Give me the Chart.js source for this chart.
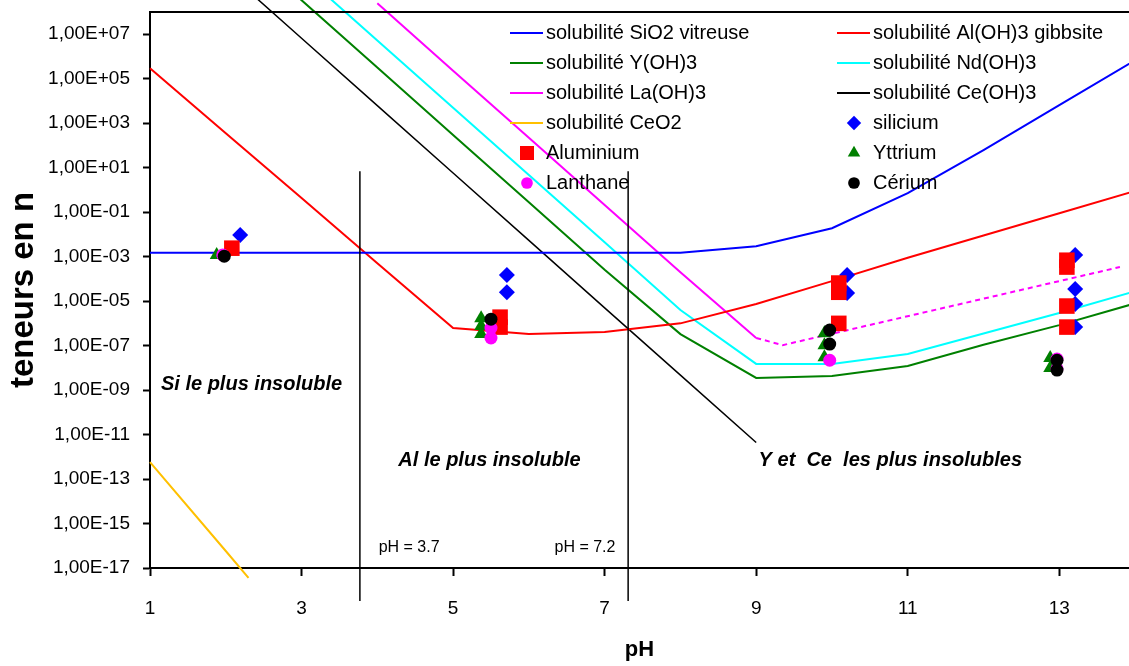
<!DOCTYPE html>
<html>
<head>
<meta charset="utf-8">
<script src="https://cdn.jsdelivr.net/npm/chart.js@4/dist/chart.umd.min.js"></script>
<style>
  html, body { margin: 0; padding: 0; background: #fff; overflow: hidden; }
</style>
</head>
<body>
<canvas id="graphique" width="1129" height="666"></canvas>
<script>
// courbes de solubilité (pH, teneur)
const phSiO2 = [1, 2, 3, 4, 5, 6, 7, 8, 9, 10, 11, 12, 13, 14];
const solSiO2 = [1.5e-3, 1.5e-3, 1.5e-3, 1.5e-3, 1.5e-3, 1.5e-3, 1.5e-3, 1.5e-3, 2.95e-3, 1.9e-2, 0.71, 62, 6.5e3, 6.8e5];

const phAl = [1, 2, 3, 4, 5, 6, 7, 8, 9, 10, 11, 12, 13, 14];
const solAl = [2.95e5, 355, 0.43, 5.1e-4, 6.2e-7, 3.3e-7, 4.1e-7, 1.0e-6, 7.4e-6, 7.9e-5, 8.9e-4, 8.9e-3, 8.9e-2, 0.89];

const phY = [2, 3, 4, 5, 6, 7, 8, 9, 10, 11, 12, 13, 14];
const solY = [3.6e11, 3.4e8, 3.2e5, 295, 0.28, 2.6e-4, 3.3e-7, 3.5e-9, 4.3e-9, 1.2e-8, 1.1e-7, 8.3e-7, 7.9e-6];

const phNd = [3, 4, 5, 6, 7, 8, 9, 10, 11, 12, 13, 14];
const solNd = [5.6e9, 5.2e6, 5.0e3, 4.7, 4.4e-3, 4.0e-6, 1.5e-8, 1.5e-8, 4.2e-8, 3.5e-7, 2.9e-6, 2.8e-5];

const phLa = [4, 5, 6, 7, 8, 9, 9.35, 11.5, 13.8];
const solLa = [2.5e8, 2.3e5, 224, 0.21, 2.0e-4, 2.2e-7, 1.05e-7, 5.2e-6, 3.4e-4];

const phCe = [2, 3, 4, 5, 6, 7, 8, 9];
const solCe = [7.1e9, 6.6e6, 6.2e3, 5.8, 5.4e-3, 5.0e-6, 4.7e-9, 4.4e-12];

const phCeO2 = [1, 2, 2.3];
const solCeO2 = [5.8e-13, 5.8e-17, 3.6e-18];

// mesures
const phSilicium = [2.19, 5.71, 5.71, 10.2, 10.2, 13.21, 13.21, 13.21, 13.21];
const teneurSilicium = [9.3e-3, 1.5e-4, 2.5e-5, 1.5e-4, 2.3e-5, 1.2e-3, 3.5e-5, 7.4e-6, 6.8e-7];

const phAluminium = [2.08, 5.62, 5.62, 10.09, 10.09, 10.09, 13.1, 13.1, 13.1, 13.1];
const teneurAluminium = [2.4e-3, 1.9e-6, 6.8e-7, 6.5e-5, 2.5e-5, 1.0e-6, 6.9e-4, 3.4e-4, 6.0e-6, 6.8e-7];

const phYttrium = [1.88, 5.37, 5.37, 5.37, 9.9, 9.9, 9.9, 12.88, 12.88];
const teneurYttrium = [1.2e-3, 1.7e-6, 7.6e-7, 3.3e-7, 3.6e-7, 1.05e-7, 3.0e-8, 2.75e-8, 9.8e-9];

const phLanthane = [1.96, 5.5, 5.5, 9.97, 12.97, 12.97];
const teneurLanthane = [1.2e-3, 6.2e-7, 2.2e-7, 2.2e-8, 2.5e-8, 9.0e-9];

const phCerium = [1.98, 5.5, 9.97, 9.97, 12.97, 12.97];
const teneurCerium = [1.05e-3, 1.55e-6, 5.0e-7, 1.17e-7, 2.2e-8, 7.9e-9];

// axes
const ticksPH = [1, 3, 5, 7, 9, 11, 13];
const ticksTeneur = [1e-17, 1e-15, 1e-13, 1e-11, 1e-9, 1e-7, 1e-5, 1e-3, 1e-1, 1e1, 1e3, 1e5, 1e7];
const etiquettesTeneur = ['1,00E-17', '1,00E-15', '1,00E-13', '1,00E-11', '1,00E-09', '1,00E-07', '1,00E-05',
  '1,00E-03', '1,00E-01', '1,00E+01', '1,00E+03', '1,00E+05', '1,00E+07'];

// limites des domaines et textes
const limitesPH = [3.77, 7.31];
const hautLimites = 7;
const zonesTexte = ['Si le plus insoluble', 'Al le plus insoluble', 'Y et  Ce  les plus insolubles'];
const zonesPH = [2.34, 5.48, 10.77];
const zonesTeneur = [1.7e-9, 6.5e-13, 7.1e-13];
const notesTexte = ['pH = 3.7', 'pH = 7.2'];
const notesPH = [4.42, 6.74];
const notesTeneur = [8.7e-17, 8.7e-17];

const police = '"Liberation Sans", Arial, sans-serif';
Chart.defaults.font.family = police;
Chart.defaults.color = '#000';

function points(xs, ys) {
  return xs.map((x, i) => ({ x: x, y: ys[i] }));
}

function courbe(label, xs, ys, couleur, epaisseur) {
  return {
    label: label, data: points(xs, ys), showLine: true,
    borderColor: couleur, backgroundColor: couleur, borderWidth: epaisseur,
    pointRadius: 0, clip: false, order: 10
  };
}

function mesures(label, xs, ys, couleur, style, rayon, ordre) {
  return {
    label: label, data: points(xs, ys), showLine: false,
    borderColor: couleur, backgroundColor: couleur, borderWidth: 0,
    pointStyle: style, pointRadius: rayon, order: ordre
  };
}

const courbeLa = courbe('solubilité La(OH)3', phLa, solLa, '#FF00FF', 2);
courbeLa.segment = { borderDash: c => c.p0.parsed.x >= 9 ? [5, 4] : undefined };

const legendeDeuxColonnes = {
  id: 'legendeDeuxColonnes',
  afterDraw(chart) {
    const ctx = chart.ctx;
    const a = chart.chartArea;
    ctx.save();
    ctx.font = '20px ' + police;
    ctx.textBaseline = 'middle';
    ctx.textAlign = 'left';
    chart.data.datasets.forEach((ds, i) => {
      const col = i % 2, row = Math.floor(i / 2);
      const x0 = a.left + (col === 0 ? 360 : 687);
      const y0 = a.top + 21 + row * 30;
      ctx.fillStyle = ds.borderColor;
      ctx.strokeStyle = ds.borderColor;
      if (ds.showLine) {
        ctx.lineWidth = 2;
        ctx.beginPath();
        ctx.moveTo(x0, y0);
        ctx.lineTo(x0 + 33, y0);
        ctx.stroke();
      } else {
        Chart.helpers.drawPoint(ctx, { pointStyle: ds.pointStyle, radius: ds.pointRadius * 0.9, rotation: 0, borderWidth: 0 }, x0 + 17, y0);
      }
      ctx.fillStyle = '#000';
      ctx.fillText(ds.label, x0 + 36, y0);
    });
    ctx.restore();
  }
};

const cadreEtTextes = {
  id: 'cadreEtTextes',
  afterDatasetsDraw(chart) {
    const { ctx, chartArea, scales: { x, y } } = chart;
    ctx.save();
    ctx.strokeStyle = '#000';
    ctx.lineWidth = 2;
    ctx.beginPath();
    ctx.moveTo(chartArea.left, chartArea.top);
    ctx.lineTo(chartArea.right, chartArea.top);
    ctx.stroke();

    ctx.lineWidth = 1.5;
    limitesPH.forEach(ph => {
      const px = x.getPixelForValue(ph);
      ctx.beginPath();
      ctx.moveTo(px, y.getPixelForValue(hautLimites));
      ctx.lineTo(px, chartArea.bottom + 33);
      ctx.stroke();
    });

    ctx.fillStyle = '#000';
    ctx.textAlign = 'center';
    ctx.textBaseline = 'middle';
    ctx.font = 'italic bold 20px ' + police;
    zonesTexte.forEach((t, i) => {
      ctx.fillText(t, x.getPixelForValue(zonesPH[i]), y.getPixelForValue(zonesTeneur[i]));
    });
    ctx.font = '16px ' + police;
    notesTexte.forEach((t, i) => {
      ctx.fillText(t, x.getPixelForValue(notesPH[i]), y.getPixelForValue(notesTeneur[i]));
    });
    ctx.restore();
  }
};

new Chart(document.getElementById('graphique'), {
  type: 'scatter',
  data: {
    datasets: [
      courbe('solubilité SiO2 vitreuse', phSiO2, solSiO2, '#0000FF', 2),
      courbe('solubilité Al(OH)3 gibbsite', phAl, solAl, '#FF0000', 2),
      courbe('solubilité Y(OH)3', phY, solY, '#008000', 2),
      courbe('solubilité Nd(OH)3', phNd, solNd, '#00FFFF', 2),
      courbeLa,
      courbe('solubilité Ce(OH)3', phCe, solCe, '#000000', 1.5),
      courbe('solubilité CeO2', phCeO2, solCeO2, '#FFC000', 2),
      mesures('silicium', phSilicium, teneurSilicium, '#0000FF', 'rectRot', 8, 5),
      mesures('Aluminium', phAluminium, teneurAluminium, '#FF0000', 'rect', 11, 4),
      mesures('Yttrium', phYttrium, teneurYttrium, '#008000', 'triangle', 8, 3),
      mesures('Lanthane', phLanthane, teneurLanthane, '#FF00FF', 'circle', 6.5, 2),
      mesures('Cérium', phCerium, teneurCerium, '#000000', 'circle', 6.5, 1)
    ]
  },
  options: {
    responsive: false,
    animation: false,
    devicePixelRatio: 1,
    layout: { autoPadding: false, padding: { top: 12, right: 0, bottom: 0, left: 0 } },
    plugins: {
      legend: { display: false },
      tooltip: { enabled: false }
    },
    scales: {
      x: {
        type: 'linear',
        min: 1,
        max: 13.92,
        afterBuildTicks: s => { s.ticks = ticksPH.map(v => ({ value: v })); },
        afterFit: s => { s.height = 98; s.paddingLeft = 0; s.paddingRight = 0; },
        grid: { drawOnChartArea: false, drawTicks: true, tickLength: 8, tickWidth: 2, tickColor: '#000' },
        border: { color: '#000', width: 2 },
        ticks: { color: '#000', font: { size: 19 }, padding: 21, maxRotation: 0, autoSkip: false },
        title: { display: true, text: 'pH', color: '#000', font: { size: 22, weight: 'bold' }, padding: { top: 0, bottom: 3 } }
      },
      y: {
        type: 'logarithmic',
        min: 1e-17,
        max: 1e8,
        afterBuildTicks: s => { s.ticks = ticksTeneur.map(v => ({ value: v })); },
        afterFit: s => { s.width = 150; s.paddingTop = 0; s.paddingBottom = 0; },
        grid: { drawOnChartArea: false, drawTicks: true, tickLength: 7, tickWidth: 2, tickColor: '#000' },
        border: { color: '#000', width: 2 },
        ticks: { color: '#000', font: { size: 19 }, padding: 13, autoSkip: false, callback: (v, i) => etiquettesTeneur[i] },
        title: { display: true, text: 'teneurs en n', color: '#000', font: { size: 33, weight: 'bold' }, padding: { top: 4, bottom: 0 } }
      }
    }
  },
  plugins: [cadreEtTextes, legendeDeuxColonnes]
});
</script>
</body>
</html>
